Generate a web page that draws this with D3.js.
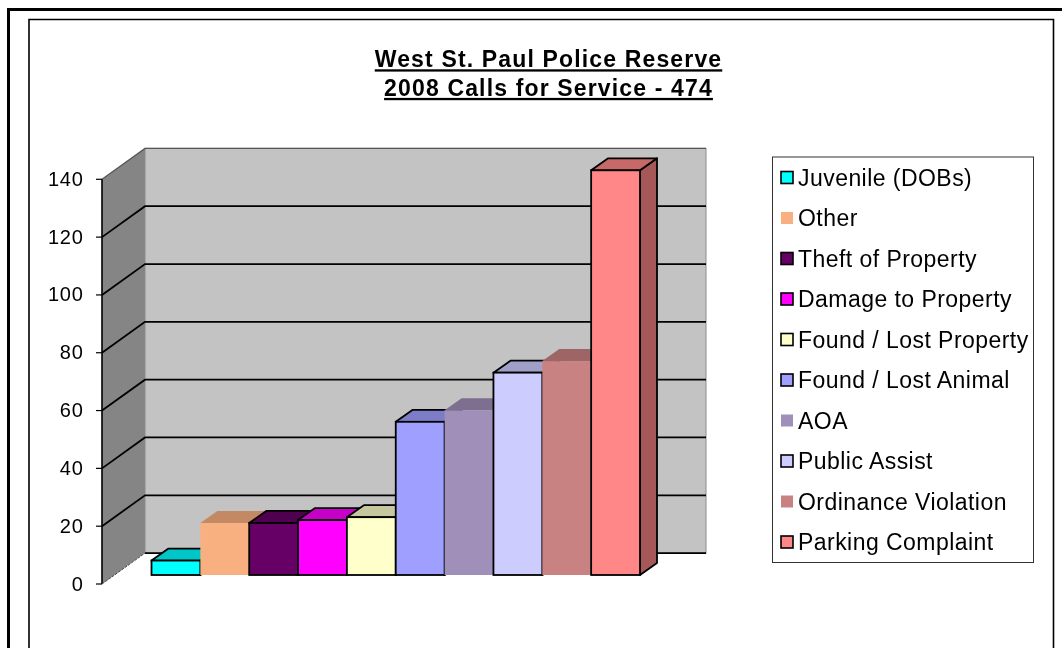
<!DOCTYPE html>
<html><head><meta charset="utf-8">
<script src="https://cdnjs.cloudflare.com/ajax/libs/d3/7.8.5/d3.min.js"></script>
<style>html,body{margin:0;padding:0;background:#fff}svg{display:block}text{font-family:"Liberation Sans",Arial,sans-serif;fill:#000}#chart{filter:blur(0.45px)}</style>
</head><body><svg id="c" width="1062" height="648"></svg>
<script>
const categories=["Juvenile (DOBs)","Other","Theft of Property","Damage to Property","Found / Lost Property","Found / Lost Animal","AOA","Public Assist","Ordinance Violation","Parking Complaint"];
const values=[5,18,18,19,20,53,57,70,74,140];
const colors=["#00ffff","#f9b080","#660066","#ff00ff","#ffffcc","#9f9fff","#a08fb8","#ccccff","#c98282","#ff8787"];
const outlined=[true,false,true,true,true,true,false,true,false,true];
const ticks=[0,20,40,60,80,100,120,140];
const titleLines=["West St. Paul Police Reserve","2008 Calls for Service - 474"];

const root=d3.select("#c");
const y=d3.scaleLinear().domain([0,140]).range([584,179.3]);
const x=d3.scaleBand().domain(categories).range([151.5,640]).padding(0);
const wallL=102,wallDx=43,wallDy=-30.9;
const barDrop=9,barDx=17,barDy=-12;
const shade=(c,k)=>d3.rgb(c).darker(k).formatHex();

// frames
root.append("path").attr("d","M8.5,648V9.5H1062").attr("fill","none").attr("stroke","#000").attr("stroke-width",3);
root.append("path").attr("d","M29,648V19.5H1053.5V648").attr("fill","none").attr("stroke","#000").attr("stroke-width",1.6);

const svg=root.append("g").attr("id","chart");

// walls
svg.append("polygon").attr("points",[[wallL,y(140)],[wallL+wallDx,y(140)+wallDy],[wallL+wallDx,y(0)+wallDy],[wallL,y(0)]].join(" ")).attr("fill","#858585");
svg.append("rect").attr("x",wallL+wallDx).attr("y",y(140)+wallDy).attr("width",561).attr("height",y(0)-y(140)).attr("fill","#c3c3c3").attr("stroke","#8c8c8c").attr("stroke-width",1);

// gridlines, ticks, labels
ticks.forEach(t=>{
  const yy=y(t);
  const g=svg.append("g").attr("fill","none").attr("stroke","#000");
  if(t!==140&&t!==0) g.append("path").attr("d",`M${wallL},${yy}L${wallL+wallDx},${yy+wallDy}H${wallL+wallDx+561}`).attr("stroke-width",1.8);
  g.append("path").attr("d",`M${wallL-6},${yy}H${wallL}`).attr("stroke-width",1.2);
  svg.append("text").attr("x",83.5).attr("y",yy+6.5).attr("text-anchor","end").attr("font-size",20).style("letter-spacing","0.7px").text(t);
});
// top edge and axis
svg.append("path").attr("d",`M${wallL},${y(140)}L${wallL+wallDx},${y(140)+wallDy}H${wallL+wallDx+561}`).attr("fill","none").attr("stroke","#555").attr("stroke-width",1.2);
svg.append("path").attr("d",`M${wallL},${y(140)}V${y(0)}`).attr("fill","none").attr("stroke","#000").attr("stroke-width",1.6);
// white floor
svg.append("polygon").attr("points",[[wallL,y(0)],[wallL+wallDx,y(0)+wallDy],[wallL+wallDx+561,y(0)+wallDy],[wallL+561,y(0)]].join(" ")).attr("fill","#fff");
svg.append("path").attr("d",`M${wallL},${y(0)}L${wallL+wallDx},${y(0)+wallDy}`).attr("stroke","#444").attr("stroke-width",1).attr("stroke-dasharray","3 1");
svg.append("path").attr("d",`M${wallL+wallDx},${y(0)+wallDy}H${wallL+wallDx+561}`).attr("stroke","#000").attr("stroke-width",1.8);

// bars
const bars=svg.append("g").selectAll("g").data(categories).join("g");
bars.each(function(c,i){
  const g=d3.select(this),x0=x(c),x1=x0+x.bandwidth(),top=y(values[i])-barDrop,base=y(0)-barDrop;
  const st=outlined[i]?"#000":"none",sw=outlined[i]?1.8:0;
  g.append("polygon").attr("points",[[x1,top],[x1+barDx,top+barDy],[x1+barDx,base+barDy],[x1,base]].join(" ")).attr("fill",shade(colors[i],1.2)).attr("stroke",st).attr("stroke-width",sw).attr("stroke-linejoin","round");
  g.append("polygon").attr("points",[[x0,top],[x0+barDx,top+barDy],[x1+barDx,top+barDy],[x1,top]].join(" ")).attr("fill",shade(colors[i],0.7)).attr("stroke",st).attr("stroke-width",sw).attr("stroke-linejoin","round");
  g.append("rect").attr("x",x0).attr("y",top).attr("width",x.bandwidth()).attr("height",base-top).attr("fill",colors[i]).attr("stroke",st).attr("stroke-width",sw);
});

// title
titleLines.forEach((t,i)=>{
  svg.append("text").attr("x",548.5).attr("y",67.3+i*28.6).attr("text-anchor","middle").attr("font-size",23).attr("font-weight","bold").attr("text-decoration","underline").style("letter-spacing","1.15px").text(t);
});

// legend
svg.append("rect").attr("x",772.5).attr("y",157).attr("width",261).attr("height",405.5).attr("fill","#fff").attr("stroke","#333").attr("stroke-width",1);
const ly=d3.scalePoint().domain(categories).range([177.5,542]);
categories.forEach((c,i)=>{
  const yy=ly(c);
  svg.append("rect").attr("x",781).attr("y",yy-6).attr("width",12).attr("height",12).attr("fill",colors[i]).attr("stroke",outlined[i]?"#000":"none").attr("stroke-width",1.6);
  svg.append("text").attr("x",798).attr("y",yy+8.4).attr("font-size",23).style("letter-spacing","0.45px").text(c);
});
</script></body></html>
